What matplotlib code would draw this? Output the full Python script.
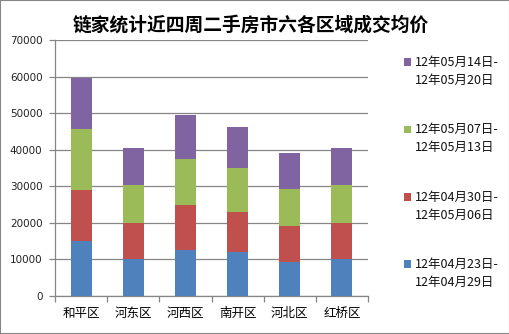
import matplotlib
matplotlib.use("Agg")
import matplotlib.pyplot as plt
import numpy as np

plt.rcParams['font.family'] = ['Noto Sans CJK SC', 'DejaVu Sans']

categories = ['和平区', '河东区', '河西区', '南开区', '河北区', '红桥区']
week1 = [15000, 10000, 12550, 12000, 9300, 10000]
week2 = [13900, 9900, 12250, 10900, 9800, 9900]
week3 = [16650, 10400, 12600, 12000, 10100, 10400]
week4 = [14150, 10300, 12200, 11200, 9800, 10300]
series_labels = ['12年04月23日-\n12年04月29日',
                 '12年04月30日-\n12年05月06日',
                 '12年05月07日-\n12年05月13日',
                 '12年05月14日-\n12年05月20日']
colors = ['#4F81BD', '#C0504D', '#9BBB59', '#8064A2']
yticks = [0, 10000, 20000, 30000, 40000, 50000, 60000, 70000]
title = '链家统计近四周二手房市六各区域成交均价'

W, H = 510, 334
fig = plt.figure(figsize=(W/100, H/100), dpi=100)
ax = fig.add_axes([55/W, 1-296/H, (368-55)/W, (296-40)/H])

x = np.arange(len(categories))
bottom = np.zeros(len(categories))
for vals, c, lab in zip([week1, week2, week3, week4], colors, series_labels):
    ax.bar(x, vals, width=0.4, bottom=bottom, color=c, label=lab, zorder=3)
    bottom += np.array(vals)

ax.set_xlim(-0.5, len(categories) - 0.5)
ax.set_ylim(0, 70000)
ax.set_yticks(yticks)
ax.set_yticklabels([str(v) for v in yticks], fontsize=7.5, family='DejaVu Sans', color='#222222')
ax.yaxis.grid(True, color='#868686', linewidth=0.9, zorder=0)
ax.set_xticks(x)
ax.set_xticklabels(categories, fontsize=9)
ax.set_xticks(np.arange(-0.5, len(categories)), minor=True)
ax.tick_params(axis='x', which='major', length=0, pad=8)
ax.tick_params(axis='x', which='minor', length=4, color='#868686', width=0.9)
ax.tick_params(axis='y', length=4, color='#868686', width=0.9, pad=5)
for s in ['top', 'right']:
    ax.spines[s].set_visible(False)
for s in ['left', 'bottom']:
    ax.spines[s].set_color('#868686')
    ax.spines[s].set_linewidth(0.9)

fig.text(251/W, 1-25/H, title, fontsize=13.5, fontweight='bold', ha='center', va='center')

# legend (reversed order), square aligned with first line as in the reference
first_line_y = [62, 129.5, 197, 264]
for i, (c, lab) in enumerate(zip(colors[::-1], series_labels[::-1])):
    y0 = first_line_y[i]
    line1, line2 = lab.split('\n')
    fig.patches.append(plt.Rectangle((404/W, 1-(y0+3.7)/H), 7.5/W, 7.5/H,
                                     transform=fig.transFigure, facecolor=c, edgecolor='none'))
    fig.text(415/W, 1-y0/H, line1, fontsize=9, ha='left', va='center', color='#111111')
    fig.text(415/W, 1-(y0+18)/H, line2, fontsize=9, ha='left', va='center', color='#111111')

# figure border
fig.patches.append(plt.Rectangle((0, 0), 1, 1, transform=fig.transFigure, fill=False,
                                 edgecolor='#868686', linewidth=1.5))

fig.savefig('out.png', dpi=100)
